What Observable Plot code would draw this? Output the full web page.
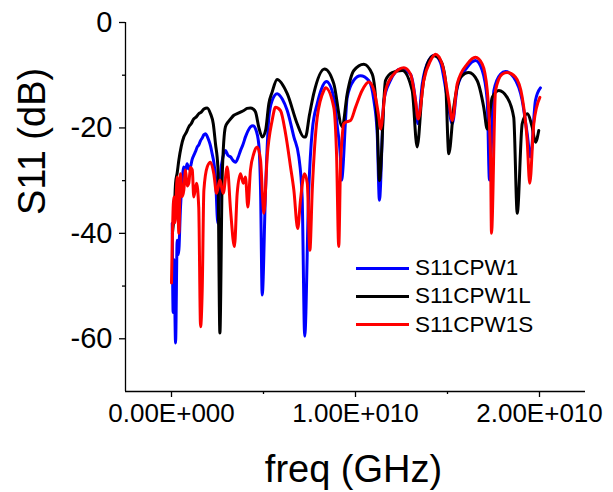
<!DOCTYPE html>
<html>
<head>
<meta charset="utf-8">
<script src="https://cdn.jsdelivr.net/npm/d3@7"></script>
<script src="https://cdn.jsdelivr.net/npm/@observablehq/plot@0.6"></script>
<style>
  html, body { margin: 0; padding: 0; background: #fff; }
  #wrap { position: relative; width: 613px; height: 492px; font-family: "Liberation Sans", Arial, sans-serif; }
  #legend { position: absolute; left: 356px; top: 254px; font-size: 22.5px; color: #000; }
  .row { display: flex; align-items: center; height: 28.3px; }
  .sw { width: 53px; height: 3px; margin-right: 6px; }
</style>
</head>
<body>
<div id="wrap"></div>
<script>
// frequency in GHz, S11 in dB
const seriesNames = ["S11CPW1", "S11CPW1L", "S11CPW1S"];
const seriesColors = ["#0000ff", "#000000", "#ff0000"];

const blueF = [0.04,0.09,0.14,0.22,0.31,0.38,0.49,0.58,0.67,0.76,0.85,0.94,1.03,1.12,1.21,1.30,1.40,1.49,1.58,1.67,1.76,1.85,1.94,2.03,2.12,2.21,2.30,2.39,2.52,2.66,2.80,2.93,3.07,3.21,3.35,3.48,3.62,3.75,3.88,4.02,4.15,4.29,4.43,4.57,4.74,4.84,4.93,5.11,5.29,5.47,5.74,6.02,6.29,6.65,6.92,7.10,7.24,7.46,7.65,7.92,8.15,8.42,8.82,9.02,9.18,9.24,9.55,9.90,10.27,10.72,11.00,11.18,11.30,11.54,11.90,12.45,12.99,13.26,13.39,13.63,13.98,14.29,14.62,14.98,15.26,15.53,16.07,16.52,16.89,17.16,17.28,17.52,17.88,18.15,18.60,19.06,19.33,19.51,19.78,20.05];
const blueDB = [-38.1,-55,-45,-60.8,-41.3,-44,-35,-30,-27.4,-28,-26.8,-27.8,-27.4,-26,-25.2,-24.5,-23.6,-23.2,-22.4,-21.9,-21.3,-21.1,-21.6,-22.4,-23.4,-24.9,-26.5,-29.3,-38.1,-28.7,-25.5,-24.3,-25.2,-25.5,-26.2,-26.5,-25.6,-24.3,-23.2,-21.7,-20.6,-19.8,-19.6,-20.2,-23,-31.8,-51.7,-31.8,-18,-14.8,-13.5,-14.5,-16.7,-21.7,-25.5,-33.1,-59.5,-31.8,-20.5,-15.4,-12.6,-11.2,-14.2,-20,-25.5,-29.9,-14.2,-11,-10.1,-11,-14.8,-21.1,-33.7,-14.8,-11,-8.8,-9.8,-14.8,-19.2,-11.6,-7.2,-6.2,-7.6,-14.2,-19.2,-12.3,-8.5,-7.2,-9.1,-14.8,-29.9,-12.9,-9.8,-9.3,-10.4,-14.8,-21.1,-25.5,-14.8,-12.4];

const blackF = [0.05,0.15,0.22,0.31,0.40,0.53,0.67,0.80,0.94,1.07,1.21,1.35,1.48,1.62,1.76,1.94,2.12,2.27,2.39,2.52,2.63,2.76,2.93,3.07,3.21,3.39,3.57,3.75,3.93,4.11,4.29,4.43,4.57,4.74,4.93,5.11,5.29,5.47,5.74,6.29,6.83,7.19,7.28,7.50,7.73,8.32,8.82,9.28,9.55,9.91,10.45,10.91,11.18,11.30,11.63,11.99,12.54,13.08,13.35,13.63,13.90,14.26,14.62,14.89,15.07,15.34,15.71,16.16,16.61,16.97,17.16,17.43,17.79,18.24,18.60,18.79,19.06,19.33,19.60,19.78,19.96];
const blackDB = [-40,-36,-30.5,-28.5,-26.1,-23.5,-21.7,-20.9,-19.8,-19.2,-18.3,-17.9,-17.3,-17,-16.4,-16.2,-17.3,-19.2,-23,-27.4,-58.9,-28.7,-19.8,-18.9,-18.3,-17.6,-17.3,-17.0,-16.7,-16.3,-16.2,-16.4,-17,-19.8,-21.7,-20.5,-15.4,-13.2,-10.8,-13.5,-19.2,-21.7,-21.7,-17.5,-13.5,-8.8,-11.6,-19.8,-13.5,-9.1,-7.9,-9.8,-19.2,-30,-11,-9.5,-9.1,-12.9,-23.6,-12.9,-7.9,-6.3,-7.2,-11,-24.9,-16.1,-10.4,-9.5,-11,-16.1,-20.2,-14.2,-12.9,-14.2,-18,-36.2,-19.2,-17.3,-19.8,-22.7,-20.5];

const redF = [0.0,0.13,0.19,0.31,0.40,0.49,0.58,0.67,0.76,0.85,0.94,1.03,1.13,1.21,1.36,1.48,1.58,1.67,1.76,1.94,2.12,2.30,2.45,2.63,2.81,3.03,3.21,3.42,3.57,3.75,3.90,4.02,4.15,4.29,4.47,4.66,4.84,4.95,5.02,5.20,5.47,5.65,5.92,6.20,6.47,6.65,6.86,7.01,7.23,7.38,7.52,7.65,7.92,8.28,8.37,8.82,8.97,9.09,9.18,9.28,9.36,9.55,9.73,10.0,10.36,10.72,11.00,11.27,11.36,11.63,12.08,12.63,12.99,13.26,13.41,13.71,14.08,14.35,14.71,15.07,15.26,15.53,16.07,16.52,16.89,17.16,17.34,17.39,17.61,17.97,18.24,18.70,19.06,19.33,19.47,19.69,20.02];
const redDB = [-49.4,-33.1,-38,-29.3,-40,-28.7,-33,-31.8,-28,-31,-30.5,-27.5,-28,-33.1,-30.5,-35,-57.7,-50.7,-31.8,-27.4,-26.5,-28.7,-32.4,-29.9,-32.4,-27.4,-35.6,-42.5,-32.4,-28.7,-30.5,-29.3,-35,-28,-24.9,-23.6,-26.1,-33.1,-36.2,-25.5,-18.6,-16.1,-16.7,-21.1,-27.4,-31.8,-39.1,-33.7,-28.7,-30.5,-43.2,-31.8,-18,-12.9,-12.4,-16.1,-25,-42.5,-28,-21.5,-19.2,-18.8,-18.6,-16.1,-12.9,-11.3,-12.9,-18,-20.2,-12.9,-9.8,-8.6,-9.8,-14.8,-18.3,-11,-7.2,-6,-7.9,-14.8,-18.6,-11.6,-7.9,-6.6,-7.9,-12.9,-25.5,-40,-12.9,-9.8,-9.5,-10.4,-14.2,-22.4,-30.5,-19.2,-14.2];

const xTicks = [0, 1e10, 2e10];
const xTickLabels = ["0.00E+000", "1.00E+010", "2.00E+010"];
const xMinor = [5e9, 1.5e10];
const yTicks = [0, -20, -40, -60];
const yTickLabels = ["0", "-20", "-40", "-60"];
const yMinor = [-10, -30, -50];
const xDomain = [-2.5e9, 2.25e10];
const yDomain = [-70, 0];
const xTitle = "freq (GHz)";
const yTitle = "S11 (dB)";

function build(fs, dbs, name) {
  return fs.map((f, i) => ({f: f * 1e9, db: dbs[i], s: name}));
}
const data = [
  build(blueF, blueDB, seriesNames[0]),
  build(blackF, blackDB, seriesNames[1]),
  build(redF, redDB, seriesNames[2])
];

const font = '"Liberation Sans", Arial, sans-serif';
const chart = Plot.plot({
  width: 613,
  height: 492,
  marginLeft: 125,
  marginRight: 28,
  marginTop: 22,
  marginBottom: 101,
  style: {fontFamily: font, color: "#000", background: "#fff", overflow: "visible"},
  x: {domain: xDomain, label: null},
  y: {domain: yDomain, label: null},
  marks: [
    Plot.ruleY([yDomain[0]], {stroke: "#000", strokeWidth: 1.3}),
    Plot.ruleX([xDomain[0]], {stroke: "#000", strokeWidth: 1.3}),
    ...data.map((d, i) => Plot.line(d, {x: "f", y: "db", stroke: seriesColors[i], strokeWidth: 3, strokeLinejoin: "round", curve: "monotone-x"})),
    Plot.axisX(xTicks, {tickSize: 6, tickPadding: 6, fontSize: 26, tickFormat: d => xTickLabels[xTicks.indexOf(d)], label: null, strokeWidth: 1.3}),
    Plot.axisX(xMinor, {tickSize: 3, tickFormat: () => "", label: null, strokeWidth: 1.3}),
    Plot.axisY(yTicks, {tickSize: 6, tickPadding: 7, fontSize: 29, tickFormat: d => yTickLabels[yTicks.indexOf(d)], label: null, strokeWidth: 1.3}),
    Plot.axisY(yMinor, {tickSize: 3, tickFormat: () => "", label: null, strokeWidth: 1.3}),
    Plot.text([xTitle], {frameAnchor: "bottom", text: d => d, fontSize: 38, lineAnchor: "middle", dy: 78, dx: -2}),
    Plot.text([yTitle], {frameAnchor: "left", text: d => d, fontSize: 38, rotate: -90, lineAnchor: "middle", dx: -93, dy: 8})
  ]
});

const wrap = document.getElementById("wrap");
wrap.appendChild(chart);
const legend = document.createElement("div");
legend.id = "legend";
seriesNames.forEach((n, i) => {
  const row = document.createElement("div");
  row.className = "row";
  const sw = document.createElement("div");
  sw.className = "sw";
  sw.style.background = seriesColors[i];
  const t = document.createElement("span");
  t.textContent = n;
  row.appendChild(sw);
  row.appendChild(t);
  legend.appendChild(row);
});
wrap.appendChild(legend);
</script>
</body>
</html>
